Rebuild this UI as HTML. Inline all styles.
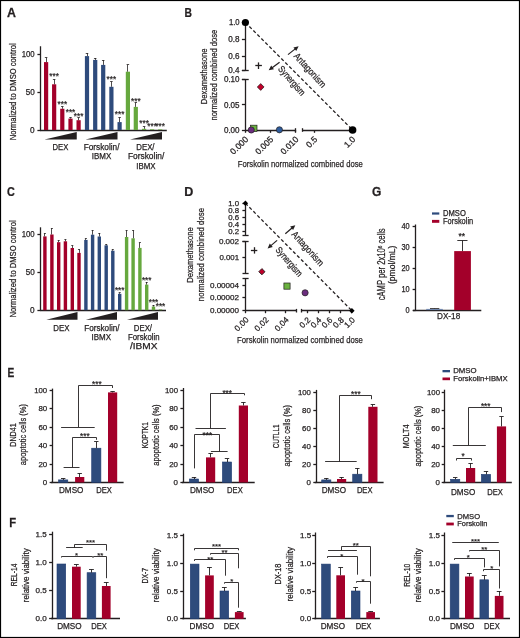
<!DOCTYPE html>
<html><head><meta charset="utf-8"><title>Figure</title>
<style>html,body{margin:0;padding:0;background:#fff;width:520px;height:638px;overflow:hidden}svg{display:block;font-family:"Liberation Sans",sans-serif;will-change:transform}text{stroke:#231f20;stroke-width:0.25px}</style>
</head><body>
<svg width="520" height="638" viewBox="0 0 520 638" font-family="Liberation Sans, sans-serif" fill="#231f20" stroke-linecap="butt">
<rect x="0.5" y="0.5" width="519" height="637" fill="none" stroke="#000" stroke-width="1.2"/>
<text transform="translate(7.09,16.7) scale(1.038,1)" x="0" y="0" font-size="11.92" font-weight="bold">A</text>
<line x1="40.5" y1="46.25" x2="40.5" y2="130.3" stroke="#231f20" stroke-width="1.3"/>
<line x1="37.4" y1="54.5" x2="40.5" y2="54.5" stroke="#231f20" stroke-width="1.3"/>
<text x="34.7" y="56.7" font-size="8.4" text-anchor="end" textLength="13" lengthAdjust="spacingAndGlyphs">100</text>
<line x1="37.4" y1="92.5" x2="40.5" y2="92.5" stroke="#231f20" stroke-width="1.3"/>
<text x="34.7" y="94.6" font-size="8.4" text-anchor="end" textLength="9" lengthAdjust="spacingAndGlyphs">50</text>
<line x1="37.4" y1="130.5" x2="40.5" y2="130.5" stroke="#231f20" stroke-width="1.3"/>
<text x="34.7" y="132.5" font-size="8.4" text-anchor="end" textLength="4.6" lengthAdjust="spacingAndGlyphs">0</text>
<line x1="40" y1="130.5" x2="166.8" y2="130.5" stroke="#231f20" stroke-width="1.3"/>
<text transform="translate(16.1,91.8) rotate(-90)" x="0" y="0" font-size="9.3" text-anchor="middle" textLength="97" lengthAdjust="spacingAndGlyphs">Normalized to DMSO control</text>
<rect x="44" y="62.1" width="4.2" height="67.9" fill="#a3002a"/>
<line x1="46.5" y1="62.1" x2="46.5" y2="57.6" stroke="#231f20" stroke-width="0.8"/>
<line x1="44.84" y1="57.5" x2="47.36" y2="57.5" stroke="#231f20" stroke-width="0.8"/>
<rect x="52.05" y="84.3" width="4.2" height="45.7" fill="#a3002a"/>
<line x1="54.5" y1="84.3" x2="54.5" y2="79.3" stroke="#231f20" stroke-width="0.8"/>
<line x1="52.89" y1="79.5" x2="55.41" y2="79.5" stroke="#231f20" stroke-width="0.8"/>
<text x="54.15" y="78.71" font-size="8.2" text-anchor="middle" style="stroke-width:0.2px">***</text>
<rect x="60.2" y="108.75" width="4.2" height="21.25" fill="#a3002a"/>
<line x1="62.5" y1="108.75" x2="62.5" y2="106.5" stroke="#231f20" stroke-width="0.8"/>
<line x1="61.04" y1="106.5" x2="63.56" y2="106.5" stroke="#231f20" stroke-width="0.8"/>
<text x="62.3" y="106.71" font-size="8.2" text-anchor="middle" style="stroke-width:0.2px">***</text>
<rect x="68.4" y="118.6" width="4.2" height="11.4" fill="#a3002a"/>
<line x1="70.5" y1="118.6" x2="70.5" y2="117.3" stroke="#231f20" stroke-width="0.8"/>
<line x1="69.24" y1="117.5" x2="71.76" y2="117.5" stroke="#231f20" stroke-width="0.8"/>
<text x="70.5" y="115.21" font-size="8.2" text-anchor="middle" style="stroke-width:0.2px">***</text>
<rect x="76.5" y="120.2" width="4.2" height="9.8" fill="#a3002a"/>
<line x1="78.5" y1="120.2" x2="78.5" y2="117.6" stroke="#231f20" stroke-width="0.8"/>
<line x1="77.34" y1="117.5" x2="79.86" y2="117.5" stroke="#231f20" stroke-width="0.8"/>
<text x="78.6" y="118.71" font-size="8.2" text-anchor="middle" style="stroke-width:0.2px">***</text>
<rect x="84.9" y="56.1" width="4.2" height="73.9" fill="#2e4b7c"/>
<line x1="87.5" y1="56.1" x2="87.5" y2="53.2" stroke="#231f20" stroke-width="0.8"/>
<line x1="85.74" y1="53.5" x2="88.26" y2="53.5" stroke="#231f20" stroke-width="0.8"/>
<rect x="93.1" y="59.9" width="4.2" height="70.1" fill="#2e4b7c"/>
<line x1="95.5" y1="59.9" x2="95.5" y2="58" stroke="#231f20" stroke-width="0.8"/>
<line x1="93.94" y1="58.5" x2="96.46" y2="58.5" stroke="#231f20" stroke-width="0.8"/>
<rect x="101.1" y="64.9" width="4.2" height="65.1" fill="#2e4b7c"/>
<line x1="103.5" y1="64.9" x2="103.5" y2="60.2" stroke="#231f20" stroke-width="0.8"/>
<line x1="101.94" y1="60.5" x2="104.46" y2="60.5" stroke="#231f20" stroke-width="0.8"/>
<rect x="109.3" y="86.8" width="4.2" height="43.2" fill="#2e4b7c"/>
<line x1="111.5" y1="86.8" x2="111.5" y2="81.7" stroke="#231f20" stroke-width="0.8"/>
<line x1="110.14" y1="81.5" x2="112.66" y2="81.5" stroke="#231f20" stroke-width="0.8"/>
<text x="111.4" y="81.91" font-size="8.2" text-anchor="middle" style="stroke-width:0.2px">***</text>
<rect x="117.5" y="122.1" width="4.2" height="7.9" fill="#2e4b7c"/>
<line x1="119.5" y1="122.1" x2="119.5" y2="117.4" stroke="#231f20" stroke-width="0.8"/>
<line x1="118.34" y1="117.5" x2="120.86" y2="117.5" stroke="#231f20" stroke-width="0.8"/>
<text x="119.6" y="116.71" font-size="8.2" text-anchor="middle" style="stroke-width:0.2px">***</text>
<rect x="125.8" y="71.7" width="4.2" height="58.3" fill="#66a83e"/>
<line x1="127.5" y1="71.7" x2="127.5" y2="64.9" stroke="#231f20" stroke-width="0.8"/>
<line x1="126.64" y1="64.5" x2="129.16" y2="64.5" stroke="#231f20" stroke-width="0.8"/>
<rect x="133.7" y="106.9" width="4.2" height="23.1" fill="#66a83e"/>
<line x1="135.5" y1="106.9" x2="135.5" y2="102.6" stroke="#231f20" stroke-width="0.8"/>
<line x1="134.54" y1="102.5" x2="137.06" y2="102.5" stroke="#231f20" stroke-width="0.8"/>
<text x="135.8" y="103.91" font-size="8.2" text-anchor="middle" style="stroke-width:0.2px">***</text>
<rect x="142" y="128.8" width="4.2" height="1.2" fill="#66a83e"/>
<line x1="144.5" y1="128.8" x2="144.5" y2="126.8" stroke="#231f20" stroke-width="0.8"/>
<line x1="142.84" y1="126.5" x2="145.36" y2="126.5" stroke="#231f20" stroke-width="0.8"/>
<text x="144.1" y="126.21" font-size="8.2" text-anchor="middle" style="stroke-width:0.2px">***</text>
<rect x="150" y="129.3" width="4.2" height="0.7" fill="#66a83e"/>
<text x="152.1" y="129.21" font-size="8.2" text-anchor="middle" style="stroke-width:0.2px">***</text>
<rect x="158.1" y="129.4" width="4.2" height="0.6" fill="#66a83e"/>
<text x="160.2" y="129.21" font-size="8.2" text-anchor="middle" style="stroke-width:0.2px">***</text>
<polygon points="44.5,139.6 76.75,139.6 76.75,132" fill="#231f20"/>
<polygon points="85.5,139.6 117.5,139.6 117.5,132" fill="#231f20"/>
<polygon points="130,139.6 162,139.6 162,132" fill="#231f20"/>
<text x="60.4" y="150" font-size="8.4" text-anchor="middle" textLength="15.8" lengthAdjust="spacingAndGlyphs">DEX</text>
<text x="101.6" y="150" font-size="8.4" text-anchor="middle" textLength="35.8" lengthAdjust="spacingAndGlyphs">Forskolin/</text>
<text x="101.5" y="159.3" font-size="8.4" text-anchor="middle" textLength="19.5" lengthAdjust="spacingAndGlyphs">IBMX</text>
<text x="145.4" y="150" font-size="8.4" text-anchor="middle" textLength="18.3" lengthAdjust="spacingAndGlyphs">DEX/</text>
<text x="146.1" y="159.3" font-size="8.4" text-anchor="middle" textLength="36.3" lengthAdjust="spacingAndGlyphs">Forskolin/</text>
<text x="145.9" y="168.7" font-size="8.4" text-anchor="middle" textLength="19.3" lengthAdjust="spacingAndGlyphs">IBMX</text>
<text transform="translate(184.51,16.8) scale(0.856,1)" x="0" y="0" font-size="12.06" font-weight="bold">B</text>
<line x1="245.5" y1="22.5" x2="245.5" y2="70.2" stroke="#231f20" stroke-width="1.3"/>
<line x1="245.5" y1="79.6" x2="245.5" y2="130.3" stroke="#231f20" stroke-width="1.3"/>
<line x1="241.9" y1="70.5" x2="248.7" y2="70.5" stroke="#231f20" stroke-width="1.3"/>
<line x1="241.9" y1="79.5" x2="248.7" y2="79.5" stroke="#231f20" stroke-width="1.3"/>
<line x1="241.9" y1="22.5" x2="245.4" y2="22.5" stroke="#231f20" stroke-width="1.3"/>
<text x="239.6" y="25.3" font-size="8.2" text-anchor="end" textLength="10.7" lengthAdjust="spacingAndGlyphs">1.0</text>
<line x1="241.9" y1="39.5" x2="245.4" y2="39.5" stroke="#231f20" stroke-width="1.3"/>
<text x="239.6" y="42.1" font-size="8.2" text-anchor="end" textLength="11.3" lengthAdjust="spacingAndGlyphs">0.8</text>
<line x1="241.9" y1="56.5" x2="245.4" y2="56.5" stroke="#231f20" stroke-width="1.3"/>
<text x="239.6" y="59.2" font-size="8.2" text-anchor="end" textLength="11.3" lengthAdjust="spacingAndGlyphs">0.6</text>
<line x1="241.9" y1="70.5" x2="245.4" y2="70.5" stroke="#231f20" stroke-width="1.3"/>
<text x="239.6" y="73" font-size="8.2" text-anchor="end" textLength="11.3" lengthAdjust="spacingAndGlyphs">0.4</text>
<line x1="241.9" y1="79.5" x2="245.4" y2="79.5" stroke="#231f20" stroke-width="1.3"/>
<text x="239.6" y="82.4" font-size="8.2" text-anchor="end" textLength="15.7" lengthAdjust="spacingAndGlyphs">0.10</text>
<line x1="241.9" y1="104.5" x2="245.4" y2="104.5" stroke="#231f20" stroke-width="1.3"/>
<text x="239.6" y="107.7" font-size="8.2" text-anchor="end" textLength="15.7" lengthAdjust="spacingAndGlyphs">0.05</text>
<line x1="241.9" y1="130.5" x2="245.4" y2="130.5" stroke="#231f20" stroke-width="1.3"/>
<text x="239.6" y="132.8" font-size="8.2" text-anchor="end" textLength="15.7" lengthAdjust="spacingAndGlyphs">0.00</text>
<line x1="244.9" y1="130.5" x2="295.7" y2="130.5" stroke="#231f20" stroke-width="1.3"/>
<line x1="302.5" y1="130.5" x2="352.6" y2="130.5" stroke="#231f20" stroke-width="1.3"/>
<line x1="295.5" y1="128.2" x2="295.5" y2="131.8" stroke="#231f20" stroke-width="1.3"/>
<line x1="302.5" y1="128.2" x2="302.5" y2="131.8" stroke="#231f20" stroke-width="1.3"/>
<line x1="245.5" y1="130" x2="245.5" y2="132.8" stroke="#231f20" stroke-width="1.3"/>
<line x1="270.5" y1="130" x2="270.5" y2="132.8" stroke="#231f20" stroke-width="1.3"/>
<line x1="295.5" y1="130" x2="295.5" y2="132.8" stroke="#231f20" stroke-width="1.3"/>
<line x1="314.5" y1="130" x2="314.5" y2="132.8" stroke="#231f20" stroke-width="1.3"/>
<line x1="352.5" y1="130" x2="352.5" y2="132.8" stroke="#231f20" stroke-width="1.3"/>
<text transform="translate(248.8,139.9) rotate(-45)" x="0" y="0" font-size="8.6" text-anchor="end">0.000</text>
<text transform="translate(274,139.9) rotate(-45)" x="0" y="0" font-size="8.6" text-anchor="end">0.005</text>
<text transform="translate(299.1,139.9) rotate(-45)" x="0" y="0" font-size="8.6" text-anchor="end">0.010</text>
<text transform="translate(318,139.9) rotate(-45)" x="0" y="0" font-size="8.6" text-anchor="end">0.5</text>
<text transform="translate(356,139.9) rotate(-45)" x="0" y="0" font-size="8.6" text-anchor="end">1.0</text>
<line x1="245.4" y1="22.5" x2="352.6" y2="130" stroke="#231f20" stroke-width="1.3" stroke-dasharray="3.3,2.35"/>
<circle cx="245.4" cy="22.5" r="3.6" fill="#000"/>
<circle cx="352.6" cy="130" r="3.8" fill="#000"/>
<line x1="288" y1="54.6" x2="295.23" y2="48.87" stroke="#231f20" stroke-width="1.2"/>
<polygon points="298.6,46.2 296.27,50.98 293.41,47.38" fill="#231f20"/>
<line x1="279.6" y1="62.2" x2="272.15" y2="67.74" stroke="#231f20" stroke-width="1.2"/>
<polygon points="268.7,70.3 271.18,65.59 273.92,69.28" fill="#231f20"/>
<text transform="translate(307.6,72.4) rotate(48)" x="0" y="0" font-size="9.6" text-anchor="middle" textLength="43" lengthAdjust="spacingAndGlyphs">Antagonism</text>
<text transform="translate(289.4,82.8) rotate(49)" x="0" y="0" font-size="9.6" text-anchor="middle" textLength="36" lengthAdjust="spacingAndGlyphs">Synergism</text>
<line x1="255.3" y1="65.5" x2="261.9" y2="65.5" stroke="#231f20" stroke-width="1.3"/>
<line x1="258.5" y1="62.4" x2="258.5" y2="69" stroke="#231f20" stroke-width="1.3"/>
<polygon points="260.7,83.6 264.1,87 260.7,90.4 257.3,87" fill="#c0002a"/>
<polygon points="260.7,83.6 264.1,87 260.7,90.4 257.3,87" fill="none" stroke="#231f20" stroke-width="0.7"/>
<rect x="250.6" y="125.2" width="6.4" height="6.2" fill="#6ab23f" stroke="#231f20" stroke-width="0.7"/>
<circle cx="251.25" cy="130" r="3.1" fill="#6b2d7e" stroke="#231f20" stroke-width="0.7"/>
<circle cx="279.4" cy="129.8" r="3.1" fill="#2f5c9c" stroke="#231f20" stroke-width="0.7"/>
<text transform="translate(206.8,76.35) rotate(-90)" x="0" y="0" font-size="9.8" text-anchor="middle" textLength="55.7" lengthAdjust="spacingAndGlyphs">Dexamethasone</text>
<text transform="translate(217.3,75.15) rotate(-90)" x="0" y="0" font-size="9.8" text-anchor="middle" textLength="90.9" lengthAdjust="spacingAndGlyphs">normalized combined dose</text>
<text x="300.3" y="167.4" font-size="9.8" text-anchor="middle" textLength="125" lengthAdjust="spacingAndGlyphs">Forskolin normalized combined dose</text>
<text transform="translate(7.05,196.3) scale(0.889,1)" x="0" y="0" font-size="12.21" font-weight="bold">C</text>
<line x1="40.5" y1="227.3" x2="40.5" y2="310.5" stroke="#231f20" stroke-width="1.3"/>
<line x1="37.4" y1="234.5" x2="40.7" y2="234.5" stroke="#231f20" stroke-width="1.3"/>
<text x="34.7" y="237.4" font-size="8.4" text-anchor="end" textLength="13" lengthAdjust="spacingAndGlyphs">100</text>
<line x1="37.4" y1="272.5" x2="40.7" y2="272.5" stroke="#231f20" stroke-width="1.3"/>
<text x="34.7" y="275.2" font-size="8.4" text-anchor="end" textLength="9" lengthAdjust="spacingAndGlyphs">50</text>
<line x1="37.4" y1="310.5" x2="40.7" y2="310.5" stroke="#231f20" stroke-width="1.3"/>
<text x="34.7" y="312.7" font-size="8.4" text-anchor="end" textLength="4.6" lengthAdjust="spacingAndGlyphs">0</text>
<line x1="40.2" y1="310.5" x2="166" y2="310.5" stroke="#231f20" stroke-width="1.3"/>
<text transform="translate(16.1,268.9) rotate(-90)" x="0" y="0" font-size="9.3" text-anchor="middle" textLength="97" lengthAdjust="spacingAndGlyphs">Normalized to DMSO control</text>
<rect x="43.2" y="236.4" width="3.4" height="73.8" fill="#a3002a"/>
<line x1="44.5" y1="236.4" x2="44.5" y2="233.3" stroke="#231f20" stroke-width="0.8"/>
<line x1="43.88" y1="233.5" x2="45.92" y2="233.5" stroke="#231f20" stroke-width="0.8"/>
<rect x="50.2" y="234.5" width="3.4" height="75.7" fill="#a3002a"/>
<line x1="51.5" y1="234.5" x2="51.5" y2="228.3" stroke="#231f20" stroke-width="0.8"/>
<line x1="50.88" y1="228.5" x2="52.92" y2="228.5" stroke="#231f20" stroke-width="0.8"/>
<rect x="57" y="242.2" width="3.4" height="68" fill="#a3002a"/>
<line x1="58.5" y1="242.2" x2="58.5" y2="240.2" stroke="#231f20" stroke-width="0.8"/>
<line x1="57.68" y1="240.5" x2="59.72" y2="240.5" stroke="#231f20" stroke-width="0.8"/>
<rect x="63.7" y="241.3" width="3.4" height="68.9" fill="#a3002a"/>
<line x1="65.5" y1="241.3" x2="65.5" y2="239.5" stroke="#231f20" stroke-width="0.8"/>
<line x1="64.38" y1="239.5" x2="66.42" y2="239.5" stroke="#231f20" stroke-width="0.8"/>
<rect x="70.6" y="248" width="3.4" height="62.2" fill="#a3002a"/>
<line x1="72.5" y1="248" x2="72.5" y2="245.7" stroke="#231f20" stroke-width="0.8"/>
<line x1="71.28" y1="245.5" x2="73.32" y2="245.5" stroke="#231f20" stroke-width="0.8"/>
<rect x="77.3" y="252.9" width="3.4" height="57.3" fill="#a3002a"/>
<line x1="79.5" y1="252.9" x2="79.5" y2="249.5" stroke="#231f20" stroke-width="0.8"/>
<line x1="77.98" y1="249.5" x2="80.02" y2="249.5" stroke="#231f20" stroke-width="0.8"/>
<rect x="84.2" y="239.9" width="3.4" height="70.3" fill="#2e4b7c"/>
<line x1="85.5" y1="239.9" x2="85.5" y2="238.7" stroke="#231f20" stroke-width="0.8"/>
<line x1="84.88" y1="238.5" x2="86.92" y2="238.5" stroke="#231f20" stroke-width="0.8"/>
<rect x="90.9" y="234.7" width="3.4" height="75.5" fill="#2e4b7c"/>
<line x1="92.5" y1="234.7" x2="92.5" y2="230.3" stroke="#231f20" stroke-width="0.8"/>
<line x1="91.58" y1="230.5" x2="93.62" y2="230.5" stroke="#231f20" stroke-width="0.8"/>
<rect x="97.6" y="236.5" width="3.4" height="73.7" fill="#2e4b7c"/>
<line x1="99.5" y1="236.5" x2="99.5" y2="233" stroke="#231f20" stroke-width="0.8"/>
<line x1="98.28" y1="233.5" x2="100.32" y2="233.5" stroke="#231f20" stroke-width="0.8"/>
<rect x="104.5" y="245.3" width="3.4" height="64.9" fill="#2e4b7c"/>
<line x1="106.5" y1="245.3" x2="106.5" y2="244.2" stroke="#231f20" stroke-width="0.8"/>
<line x1="105.18" y1="244.5" x2="107.22" y2="244.5" stroke="#231f20" stroke-width="0.8"/>
<rect x="111.1" y="250.7" width="3.4" height="59.5" fill="#2e4b7c"/>
<line x1="112.5" y1="250.7" x2="112.5" y2="249.4" stroke="#231f20" stroke-width="0.8"/>
<line x1="111.78" y1="249.5" x2="113.82" y2="249.5" stroke="#231f20" stroke-width="0.8"/>
<rect x="118" y="293.8" width="3.4" height="16.4" fill="#2e4b7c"/>
<line x1="119.5" y1="293.8" x2="119.5" y2="292.8" stroke="#231f20" stroke-width="0.8"/>
<line x1="118.68" y1="292.5" x2="120.72" y2="292.5" stroke="#231f20" stroke-width="0.8"/>
<text x="119.7" y="293.31" font-size="8.2" text-anchor="middle" style="stroke-width:0.2px">***</text>
<rect x="124.9" y="237" width="3.4" height="73.2" fill="#66a83e"/>
<line x1="126.5" y1="237" x2="126.5" y2="230.4" stroke="#231f20" stroke-width="0.8"/>
<line x1="125.58" y1="230.5" x2="127.62" y2="230.5" stroke="#231f20" stroke-width="0.8"/>
<rect x="131.4" y="238.3" width="3.4" height="71.9" fill="#66a83e"/>
<line x1="133.5" y1="238.3" x2="133.5" y2="230.4" stroke="#231f20" stroke-width="0.8"/>
<line x1="132.08" y1="230.5" x2="134.12" y2="230.5" stroke="#231f20" stroke-width="0.8"/>
<rect x="138.2" y="247.9" width="3.4" height="62.3" fill="#66a83e"/>
<line x1="139.5" y1="247.9" x2="139.5" y2="242.8" stroke="#231f20" stroke-width="0.8"/>
<line x1="138.88" y1="242.5" x2="140.92" y2="242.5" stroke="#231f20" stroke-width="0.8"/>
<rect x="145" y="284.6" width="3.4" height="25.6" fill="#66a83e"/>
<line x1="146.5" y1="284.6" x2="146.5" y2="282" stroke="#231f20" stroke-width="0.8"/>
<line x1="145.68" y1="282.5" x2="147.72" y2="282.5" stroke="#231f20" stroke-width="0.8"/>
<text x="146.7" y="282.81" font-size="8.2" text-anchor="middle" style="stroke-width:0.2px">***</text>
<rect x="151.8" y="306.5" width="3.4" height="3.7" fill="#66a83e"/>
<line x1="153.5" y1="306.5" x2="153.5" y2="305" stroke="#231f20" stroke-width="0.8"/>
<line x1="152.48" y1="305.5" x2="154.52" y2="305.5" stroke="#231f20" stroke-width="0.8"/>
<text x="153.5" y="304.81" font-size="8.2" text-anchor="middle" style="stroke-width:0.2px">***</text>
<rect x="158.8" y="309.4" width="3.4" height="0.8" fill="#66a83e"/>
<text x="160.5" y="309.01" font-size="8.2" text-anchor="middle" style="stroke-width:0.2px">***</text>
<polygon points="46.3,319.8 77.5,319.8 77.5,312" fill="#231f20"/>
<polygon points="85.8,319.8 117,319.8 117,312" fill="#231f20"/>
<polygon points="127,319.8 158,319.8 158,312" fill="#231f20"/>
<text x="61.4" y="330.6" font-size="8.4" text-anchor="middle" textLength="16.2" lengthAdjust="spacingAndGlyphs">DEX</text>
<text x="101.9" y="330.7" font-size="8.4" text-anchor="middle" textLength="35.3" lengthAdjust="spacingAndGlyphs">Forskolin/</text>
<text x="101.3" y="340" font-size="8.4" text-anchor="middle" textLength="19.5" lengthAdjust="spacingAndGlyphs">IBMX</text>
<text x="142.9" y="330.7" font-size="8.4" text-anchor="middle" textLength="18.3" lengthAdjust="spacingAndGlyphs">DEX/</text>
<text x="143.75" y="340" font-size="8.4" text-anchor="middle" textLength="31.5" lengthAdjust="spacingAndGlyphs">Forskolin</text>
<text x="143.75" y="349.3" font-size="8.4" text-anchor="middle" textLength="27.5" lengthAdjust="spacingAndGlyphs">/IBMX</text>
<text transform="translate(184.36,196.4) scale(1.041,1)" x="0" y="0" font-size="12.06" font-weight="bold">D</text>
<line x1="245.5" y1="203.3" x2="245.5" y2="235.2" stroke="#231f20" stroke-width="1.3"/>
<line x1="245.5" y1="241.4" x2="245.5" y2="273.1" stroke="#231f20" stroke-width="1.3"/>
<line x1="245.5" y1="278" x2="245.5" y2="310.7" stroke="#231f20" stroke-width="1.3"/>
<line x1="242.5" y1="235.5" x2="248.6" y2="235.5" stroke="#231f20" stroke-width="1.3"/>
<line x1="242.5" y1="241.5" x2="248.6" y2="241.5" stroke="#231f20" stroke-width="1.3"/>
<line x1="242.5" y1="273.5" x2="248.6" y2="273.5" stroke="#231f20" stroke-width="1.3"/>
<line x1="242.5" y1="278.5" x2="248.6" y2="278.5" stroke="#231f20" stroke-width="1.3"/>
<line x1="242.4" y1="203.5" x2="245.4" y2="203.5" stroke="#231f20" stroke-width="1.3"/>
<text x="239.1" y="205.9" font-size="7.8" text-anchor="end" textLength="10.9" lengthAdjust="spacingAndGlyphs">1.0</text>
<line x1="242.4" y1="210.5" x2="245.4" y2="210.5" stroke="#231f20" stroke-width="1.3"/>
<text x="239.1" y="213.1" font-size="7.8" text-anchor="end" textLength="10.9" lengthAdjust="spacingAndGlyphs">0.8</text>
<line x1="242.4" y1="217.5" x2="245.4" y2="217.5" stroke="#231f20" stroke-width="1.3"/>
<text x="239.1" y="220.1" font-size="7.8" text-anchor="end" textLength="10.9" lengthAdjust="spacingAndGlyphs">0.6</text>
<line x1="242.4" y1="224.5" x2="245.4" y2="224.5" stroke="#231f20" stroke-width="1.3"/>
<text x="239.1" y="227" font-size="7.8" text-anchor="end" textLength="10.9" lengthAdjust="spacingAndGlyphs">0.4</text>
<line x1="242.4" y1="231.5" x2="245.4" y2="231.5" stroke="#231f20" stroke-width="1.3"/>
<text x="239.1" y="233.9" font-size="7.8" text-anchor="end" textLength="10.9" lengthAdjust="spacingAndGlyphs">0.2</text>
<line x1="242.4" y1="241.5" x2="245.4" y2="241.5" stroke="#231f20" stroke-width="1.3"/>
<text x="239.1" y="244" font-size="7.8" text-anchor="end" textLength="20.2" lengthAdjust="spacingAndGlyphs">0.002</text>
<line x1="242.4" y1="257.5" x2="245.4" y2="257.5" stroke="#231f20" stroke-width="1.3"/>
<text x="239.1" y="260.4" font-size="7.8" text-anchor="end" textLength="19.7" lengthAdjust="spacingAndGlyphs">0.001</text>
<line x1="242.4" y1="285.5" x2="245.4" y2="285.5" stroke="#231f20" stroke-width="1.3"/>
<text x="239.1" y="287.8" font-size="7.8" text-anchor="end" textLength="29.2" lengthAdjust="spacingAndGlyphs">0.00004</text>
<line x1="242.4" y1="297.5" x2="245.4" y2="297.5" stroke="#231f20" stroke-width="1.3"/>
<text x="239.1" y="299.9" font-size="7.8" text-anchor="end" textLength="29.2" lengthAdjust="spacingAndGlyphs">0.00002</text>
<line x1="242.4" y1="310.5" x2="245.4" y2="310.5" stroke="#231f20" stroke-width="1.3"/>
<text x="239.1" y="312.8" font-size="7.8" text-anchor="end" textLength="29.2" lengthAdjust="spacingAndGlyphs">0.00000</text>
<line x1="244.9" y1="310.5" x2="296" y2="310.5" stroke="#231f20" stroke-width="1.3"/>
<line x1="301.2" y1="310.5" x2="351.9" y2="310.5" stroke="#231f20" stroke-width="1.3"/>
<line x1="296.5" y1="308.9" x2="296.5" y2="312.5" stroke="#231f20" stroke-width="1.3"/>
<line x1="301.5" y1="308.9" x2="301.5" y2="312.5" stroke="#231f20" stroke-width="1.3"/>
<line x1="245.5" y1="310.7" x2="245.5" y2="313.2" stroke="#231f20" stroke-width="1.3"/>
<line x1="265.5" y1="310.7" x2="265.5" y2="313.2" stroke="#231f20" stroke-width="1.3"/>
<line x1="285.5" y1="310.7" x2="285.5" y2="313.2" stroke="#231f20" stroke-width="1.3"/>
<line x1="307.5" y1="310.7" x2="307.5" y2="313.2" stroke="#231f20" stroke-width="1.3"/>
<line x1="318.5" y1="310.7" x2="318.5" y2="313.2" stroke="#231f20" stroke-width="1.3"/>
<line x1="329.5" y1="310.7" x2="329.5" y2="313.2" stroke="#231f20" stroke-width="1.3"/>
<line x1="340.5" y1="310.7" x2="340.5" y2="313.2" stroke="#231f20" stroke-width="1.3"/>
<line x1="351.5" y1="310.7" x2="351.5" y2="313.2" stroke="#231f20" stroke-width="1.3"/>
<text transform="translate(249.1,320.4) rotate(-45)" x="0" y="0" font-size="8.2" text-anchor="end">0.00</text>
<text transform="translate(269.1,320.4) rotate(-45)" x="0" y="0" font-size="8.2" text-anchor="end">0.02</text>
<text transform="translate(289.3,320.4) rotate(-45)" x="0" y="0" font-size="8.2" text-anchor="end">0.04</text>
<text transform="translate(310.9,320.4) rotate(-45)" x="0" y="0" font-size="8.2" text-anchor="end">0.2</text>
<text transform="translate(322,320.4) rotate(-45)" x="0" y="0" font-size="8.2" text-anchor="end">0.4</text>
<text transform="translate(333.1,320.4) rotate(-45)" x="0" y="0" font-size="8.2" text-anchor="end">0.6</text>
<text transform="translate(344.4,320.4) rotate(-45)" x="0" y="0" font-size="8.2" text-anchor="end">0.8</text>
<text transform="translate(355.6,320.4) rotate(-45)" x="0" y="0" font-size="8.2" text-anchor="end">1.0</text>
<line x1="245.4" y1="203.3" x2="351.9" y2="310.7" stroke="#231f20" stroke-width="1.3" stroke-dasharray="3.3,2.35"/>
<polygon points="245.4,200.6 248.1,203.3 245.4,206 242.7,203.3" fill="#000"/>
<polygon points="351.9,308 354.6,310.7 351.9,313.4 349.2,310.7" fill="#000"/>
<line x1="285.3" y1="233.7" x2="292.02" y2="227.98" stroke="#231f20" stroke-width="1.2"/>
<polygon points="295.3,225.2 293.13,230.06 290.15,226.56" fill="#231f20"/>
<line x1="277.1" y1="240.4" x2="270.89" y2="245.63" stroke="#231f20" stroke-width="1.2"/>
<polygon points="267.6,248.4 269.79,243.55 272.75,247.07" fill="#231f20"/>
<text transform="translate(305.5,250.7) rotate(48)" x="0" y="0" font-size="9.6" text-anchor="middle" textLength="43" lengthAdjust="spacingAndGlyphs">Antagonism</text>
<text transform="translate(286.7,263.8) rotate(49)" x="0" y="0" font-size="9.6" text-anchor="middle" textLength="36" lengthAdjust="spacingAndGlyphs">Synergism</text>
<line x1="250.9" y1="250.5" x2="257.3" y2="250.5" stroke="#231f20" stroke-width="1.3"/>
<line x1="254.5" y1="247.2" x2="254.5" y2="253.6" stroke="#231f20" stroke-width="1.3"/>
<polygon points="261.9,268.6 265,271.7 261.9,274.8 258.8,271.7" fill="#c0002a" stroke="#231f20" stroke-width="0.9"/>
<rect x="283.9" y="283" width="6.2" height="6.2" fill="#6ab23f" stroke="#231f20" stroke-width="0.7"/>
<circle cx="305.1" cy="292.8" r="3.1" fill="#6b2d7e" stroke="#231f20" stroke-width="0.7"/>
<text transform="translate(192.8,255.1) rotate(-90)" x="0" y="0" font-size="9.8" text-anchor="middle" textLength="55.5" lengthAdjust="spacingAndGlyphs">Dexamethasone</text>
<text transform="translate(203.5,254.6) rotate(-90)" x="0" y="0" font-size="9.8" text-anchor="middle" textLength="93.2" lengthAdjust="spacingAndGlyphs">normalized combined dose</text>
<text x="300" y="342.9" font-size="9.8" text-anchor="middle" textLength="125.8" lengthAdjust="spacingAndGlyphs">Forskolin normalized combined dose</text>
<text transform="translate(372.11,196.3) scale(0.983,1)" x="0" y="0" font-size="12.21" font-weight="bold">G</text>
<rect x="432" y="212.4" width="7.3" height="2.2" fill="#2e4b7c"/>
<text x="443" y="216" font-size="8.2" textLength="22.8" lengthAdjust="spacingAndGlyphs">DMSO</text>
<rect x="432" y="219.9" width="7.3" height="2.9" fill="#a3002a"/>
<text x="443" y="223.6" font-size="8.2" textLength="30.2" lengthAdjust="spacingAndGlyphs">Forskolin</text>
<line x1="415.5" y1="224.5" x2="415.5" y2="310.6" stroke="#231f20" stroke-width="1.3"/>
<line x1="412.6" y1="226.5" x2="415.6" y2="226.5" stroke="#231f20" stroke-width="1.3"/>
<text x="409.6" y="228.8" font-size="8.4" text-anchor="end" textLength="8.2" lengthAdjust="spacingAndGlyphs">40</text>
<line x1="412.6" y1="247.5" x2="415.6" y2="247.5" stroke="#231f20" stroke-width="1.3"/>
<text x="409.6" y="249.9" font-size="8.4" text-anchor="end" textLength="8.2" lengthAdjust="spacingAndGlyphs">30</text>
<line x1="412.6" y1="268.5" x2="415.6" y2="268.5" stroke="#231f20" stroke-width="1.3"/>
<text x="409.6" y="270.6" font-size="8.4" text-anchor="end" textLength="8.2" lengthAdjust="spacingAndGlyphs">20</text>
<line x1="412.6" y1="289.5" x2="415.6" y2="289.5" stroke="#231f20" stroke-width="1.3"/>
<text x="409.6" y="291.8" font-size="8.4" text-anchor="end" textLength="8.2" lengthAdjust="spacingAndGlyphs">10</text>
<line x1="412.6" y1="310.5" x2="415.6" y2="310.5" stroke="#231f20" stroke-width="1.3"/>
<text x="409.6" y="312.7" font-size="8.4" text-anchor="end" textLength="4.1" lengthAdjust="spacingAndGlyphs">0</text>
<line x1="413" y1="310.5" x2="481.3" y2="310.5" stroke="#231f20" stroke-width="1.3"/>
<rect x="426.2" y="308.9" width="16.6" height="1.2" fill="#6f86ad"/>
<line x1="434.5" y1="308.9" x2="434.5" y2="308.5" stroke="#231f20" stroke-width="0.8"/>
<line x1="430" y1="308.5" x2="439.3" y2="308.5" stroke="#231f20" stroke-width="0.8"/>
<rect x="454.2" y="251.1" width="16.7" height="59" fill="#a3002a"/>
<line x1="462.5" y1="251.1" x2="462.5" y2="240.5" stroke="#231f20" stroke-width="0.9"/>
<line x1="457.3" y1="240.5" x2="467.5" y2="240.5" stroke="#231f20" stroke-width="0.9"/>
<text x="461.8" y="239.2" font-size="8.5" text-anchor="middle">**</text>
<text x="448.6" y="319.4" font-size="8.4" text-anchor="middle" textLength="23.2" lengthAdjust="spacingAndGlyphs">DX-18</text>
<text transform="translate(385.4,264.3) rotate(-90)" x="0" y="0" font-size="10" text-anchor="middle" textLength="72" lengthAdjust="spacingAndGlyphs">cAMP per 2x10<tspan font-size="6" dy="-3.2">6</tspan><tspan dy="3.2"> cells</tspan></text>
<text transform="translate(395,264.8) rotate(-90)" x="0" y="0" font-size="9.6" text-anchor="middle" textLength="38.5" lengthAdjust="spacingAndGlyphs">(pmol/mL)</text>
<text transform="translate(7.52,376.8) scale(0.822,1)" x="0" y="0" font-size="12.35" font-weight="bold">E</text>
<line x1="52.5" y1="388.6" x2="52.5" y2="482.9" stroke="#231f20" stroke-width="1.3"/>
<line x1="49.6" y1="390.5" x2="52.6" y2="390.5" stroke="#231f20" stroke-width="1.3"/>
<text x="47.2" y="393.1" font-size="7.9" text-anchor="end" textLength="13" lengthAdjust="spacingAndGlyphs">100</text>
<line x1="49.6" y1="408.5" x2="52.6" y2="408.5" stroke="#231f20" stroke-width="1.3"/>
<text x="47.2" y="411.48" font-size="7.9" text-anchor="end" textLength="8.8" lengthAdjust="spacingAndGlyphs">80</text>
<line x1="49.6" y1="427.5" x2="52.6" y2="427.5" stroke="#231f20" stroke-width="1.3"/>
<text x="47.2" y="429.86" font-size="7.9" text-anchor="end" textLength="8.8" lengthAdjust="spacingAndGlyphs">60</text>
<line x1="49.6" y1="445.5" x2="52.6" y2="445.5" stroke="#231f20" stroke-width="1.3"/>
<text x="47.2" y="448.24" font-size="7.9" text-anchor="end" textLength="8.8" lengthAdjust="spacingAndGlyphs">40</text>
<line x1="49.6" y1="464.5" x2="52.6" y2="464.5" stroke="#231f20" stroke-width="1.3"/>
<text x="47.2" y="466.62" font-size="7.9" text-anchor="end" textLength="8.8" lengthAdjust="spacingAndGlyphs">20</text>
<line x1="49.6" y1="482.5" x2="52.6" y2="482.5" stroke="#231f20" stroke-width="1.3"/>
<text x="47.2" y="485" font-size="7.9" text-anchor="end" textLength="4.4" lengthAdjust="spacingAndGlyphs">0</text>
<line x1="51.1" y1="482.5" x2="123.6" y2="482.5" stroke="#231f20" stroke-width="1.3"/>
<rect x="58.6" y="479.9" width="9.2" height="2.5" fill="#2e4b7c" stroke="#203d72" stroke-width="0.6"/>
<line x1="63.5" y1="479.9" x2="63.5" y2="478.4" stroke="#231f20" stroke-width="0.9"/>
<line x1="61" y1="478.5" x2="65.4" y2="478.5" stroke="#231f20" stroke-width="0.9"/>
<rect x="75.1" y="477" width="9.2" height="5.4" fill="#a3002a"/>
<line x1="79.5" y1="477" x2="79.5" y2="473.2" stroke="#231f20" stroke-width="0.9"/>
<line x1="77.5" y1="473.5" x2="81.9" y2="473.5" stroke="#231f20" stroke-width="0.9"/>
<rect x="91.7" y="448.2" width="9.2" height="34.2" fill="#2e4b7c" stroke="#203d72" stroke-width="0.6"/>
<line x1="96.5" y1="448.2" x2="96.5" y2="441.8" stroke="#231f20" stroke-width="0.9"/>
<line x1="94.1" y1="441.5" x2="98.5" y2="441.5" stroke="#231f20" stroke-width="0.9"/>
<rect x="108" y="392.4" width="9.2" height="90" fill="#a3002a"/>
<line x1="112.5" y1="392.4" x2="112.5" y2="391.5" stroke="#231f20" stroke-width="0.9"/>
<line x1="110.4" y1="391.5" x2="114.8" y2="391.5" stroke="#231f20" stroke-width="0.9"/>
<polyline points="63.6,467.5 79.5,467.5" fill="none" stroke="#231f20" stroke-width="0.9"/>
<polyline points="72.5,467.4 72.5,437.5 96.5,437.5 96.5,439.8" fill="none" stroke="#231f20" stroke-width="0.9"/>
<polyline points="61.1,427.5 94.7,427.5" fill="none" stroke="#231f20" stroke-width="0.9"/>
<polyline points="78.5,427 78.5,385.5 112.5,385.5 112.5,388" fill="none" stroke="#231f20" stroke-width="0.9"/>
<text x="84.9" y="438.51" font-size="8.2" text-anchor="middle" style="stroke-width:0.2px">***</text>
<text x="96.9" y="386.61" font-size="8.2" text-anchor="middle" style="stroke-width:0.2px">***</text>
<text transform="translate(15.5,435) rotate(-90)" x="0" y="0" font-size="9.6" text-anchor="middle" textLength="23.5" lengthAdjust="spacingAndGlyphs">DND41</text>
<text transform="translate(26,434.6) rotate(-90)" x="0" y="0" font-size="9.6" text-anchor="middle" textLength="61.2" lengthAdjust="spacingAndGlyphs">apoptotic cells (%)</text>
<text x="71.2" y="493.3" font-size="8.5" text-anchor="middle" textLength="24.4" lengthAdjust="spacingAndGlyphs">DMSO</text>
<text x="104.1" y="493.3" font-size="8.5" text-anchor="middle" textLength="15.6" lengthAdjust="spacingAndGlyphs">DEX</text>
<line x1="183.5" y1="388" x2="183.5" y2="482.9" stroke="#231f20" stroke-width="1.3"/>
<line x1="180.4" y1="390.5" x2="183.4" y2="390.5" stroke="#231f20" stroke-width="1.3"/>
<text x="178" y="393.1" font-size="7.9" text-anchor="end" textLength="13" lengthAdjust="spacingAndGlyphs">100</text>
<line x1="180.4" y1="408.5" x2="183.4" y2="408.5" stroke="#231f20" stroke-width="1.3"/>
<text x="178" y="411.48" font-size="7.9" text-anchor="end" textLength="8.8" lengthAdjust="spacingAndGlyphs">80</text>
<line x1="180.4" y1="427.5" x2="183.4" y2="427.5" stroke="#231f20" stroke-width="1.3"/>
<text x="178" y="429.86" font-size="7.9" text-anchor="end" textLength="8.8" lengthAdjust="spacingAndGlyphs">60</text>
<line x1="180.4" y1="445.5" x2="183.4" y2="445.5" stroke="#231f20" stroke-width="1.3"/>
<text x="178" y="448.24" font-size="7.9" text-anchor="end" textLength="8.8" lengthAdjust="spacingAndGlyphs">40</text>
<line x1="180.4" y1="464.5" x2="183.4" y2="464.5" stroke="#231f20" stroke-width="1.3"/>
<text x="178" y="466.62" font-size="7.9" text-anchor="end" textLength="8.8" lengthAdjust="spacingAndGlyphs">20</text>
<line x1="180.4" y1="482.5" x2="183.4" y2="482.5" stroke="#231f20" stroke-width="1.3"/>
<text x="178" y="485" font-size="7.9" text-anchor="end" textLength="4.4" lengthAdjust="spacingAndGlyphs">0</text>
<line x1="181.9" y1="482.5" x2="254.7" y2="482.5" stroke="#231f20" stroke-width="1.3"/>
<rect x="189.4" y="479" width="9.2" height="3.4" fill="#2e4b7c" stroke="#203d72" stroke-width="0.6"/>
<line x1="194.5" y1="479" x2="194.5" y2="477" stroke="#231f20" stroke-width="0.9"/>
<line x1="191.8" y1="477.5" x2="196.2" y2="477.5" stroke="#231f20" stroke-width="0.9"/>
<rect x="206" y="457.4" width="9.2" height="25" fill="#a3002a"/>
<line x1="210.5" y1="457.4" x2="210.5" y2="453.4" stroke="#231f20" stroke-width="0.9"/>
<line x1="208.4" y1="453.5" x2="212.8" y2="453.5" stroke="#231f20" stroke-width="0.9"/>
<rect x="222.4" y="462" width="9.2" height="20.4" fill="#2e4b7c" stroke="#203d72" stroke-width="0.6"/>
<line x1="227.5" y1="462" x2="227.5" y2="458.8" stroke="#231f20" stroke-width="0.9"/>
<line x1="224.8" y1="458.5" x2="229.2" y2="458.5" stroke="#231f20" stroke-width="0.9"/>
<rect x="238.8" y="405.5" width="9.2" height="76.9" fill="#a3002a"/>
<line x1="243.5" y1="405.5" x2="243.5" y2="402.4" stroke="#231f20" stroke-width="0.9"/>
<line x1="241.2" y1="402.5" x2="245.6" y2="402.5" stroke="#231f20" stroke-width="0.9"/>
<polyline points="195.5,428.5 225.9,428.5" fill="none" stroke="#231f20" stroke-width="0.9"/>
<polyline points="210.5,428.4 210.5,393.5 244.5,393.5 244.5,395.3" fill="none" stroke="#231f20" stroke-width="0.9"/>
<polyline points="194.5,468.4 194.5,434.5 219.5,434.5 219.5,451.5" fill="none" stroke="#231f20" stroke-width="0.9"/>
<polyline points="210.9,451.5 227.6,451.5" fill="none" stroke="#231f20" stroke-width="0.9"/>
<text x="227.2" y="395.71" font-size="8.2" text-anchor="middle" style="stroke-width:0.2px">***</text>
<text x="207.4" y="438.01" font-size="8.2" text-anchor="middle" style="stroke-width:0.2px">***</text>
<text transform="translate(148,435.2) rotate(-90)" x="0" y="0" font-size="9.6" text-anchor="middle" textLength="26.3" lengthAdjust="spacingAndGlyphs">KOPTK1</text>
<text transform="translate(159.4,435.1) rotate(-90)" x="0" y="0" font-size="9.6" text-anchor="middle" textLength="61.4" lengthAdjust="spacingAndGlyphs">apoptotic cells (%)</text>
<text x="202.2" y="493.3" font-size="8.5" text-anchor="middle" textLength="24.4" lengthAdjust="spacingAndGlyphs">DMSO</text>
<text x="234.9" y="493.3" font-size="8.5" text-anchor="middle" textLength="15.6" lengthAdjust="spacingAndGlyphs">DEX</text>
<line x1="316.5" y1="389.9" x2="316.5" y2="482.9" stroke="#231f20" stroke-width="1.3"/>
<line x1="313.3" y1="392.5" x2="316.3" y2="392.5" stroke="#231f20" stroke-width="1.3"/>
<text x="310.9" y="394.6" font-size="7.9" text-anchor="end" textLength="13" lengthAdjust="spacingAndGlyphs">100</text>
<line x1="313.3" y1="410.5" x2="316.3" y2="410.5" stroke="#231f20" stroke-width="1.3"/>
<text x="310.9" y="412.68" font-size="7.9" text-anchor="end" textLength="8.8" lengthAdjust="spacingAndGlyphs">80</text>
<line x1="313.3" y1="428.5" x2="316.3" y2="428.5" stroke="#231f20" stroke-width="1.3"/>
<text x="310.9" y="430.76" font-size="7.9" text-anchor="end" textLength="8.8" lengthAdjust="spacingAndGlyphs">60</text>
<line x1="313.3" y1="446.5" x2="316.3" y2="446.5" stroke="#231f20" stroke-width="1.3"/>
<text x="310.9" y="448.84" font-size="7.9" text-anchor="end" textLength="8.8" lengthAdjust="spacingAndGlyphs">40</text>
<line x1="313.3" y1="464.5" x2="316.3" y2="464.5" stroke="#231f20" stroke-width="1.3"/>
<text x="310.9" y="466.92" font-size="7.9" text-anchor="end" textLength="8.8" lengthAdjust="spacingAndGlyphs">20</text>
<line x1="313.3" y1="482.5" x2="316.3" y2="482.5" stroke="#231f20" stroke-width="1.3"/>
<text x="310.9" y="485" font-size="7.9" text-anchor="end" textLength="4.4" lengthAdjust="spacingAndGlyphs">0</text>
<line x1="314.8" y1="482.5" x2="383.6" y2="482.5" stroke="#231f20" stroke-width="1.3"/>
<rect x="321.7" y="479.9" width="9.2" height="2.5" fill="#2e4b7c" stroke="#203d72" stroke-width="0.6"/>
<line x1="326.5" y1="479.9" x2="326.5" y2="478" stroke="#231f20" stroke-width="0.9"/>
<line x1="324.1" y1="478.5" x2="328.5" y2="478.5" stroke="#231f20" stroke-width="0.9"/>
<rect x="337" y="479" width="9.2" height="3.4" fill="#a3002a"/>
<line x1="341.5" y1="479" x2="341.5" y2="477" stroke="#231f20" stroke-width="0.9"/>
<line x1="339.4" y1="477.5" x2="343.8" y2="477.5" stroke="#231f20" stroke-width="0.9"/>
<rect x="352.7" y="474.2" width="9.2" height="8.2" fill="#2e4b7c" stroke="#203d72" stroke-width="0.6"/>
<line x1="357.5" y1="474.2" x2="357.5" y2="468" stroke="#231f20" stroke-width="0.9"/>
<line x1="355.1" y1="468.5" x2="359.5" y2="468.5" stroke="#231f20" stroke-width="0.9"/>
<rect x="368.3" y="406.8" width="9.2" height="75.6" fill="#a3002a"/>
<line x1="372.5" y1="406.8" x2="372.5" y2="404.5" stroke="#231f20" stroke-width="0.9"/>
<line x1="370.7" y1="404.5" x2="375.1" y2="404.5" stroke="#231f20" stroke-width="0.9"/>
<polyline points="325.1,461.5 356.7,461.5" fill="none" stroke="#231f20" stroke-width="0.9"/>
<polyline points="339.5,461.7 339.5,395.5 371.5,395.5 371.5,399.2" fill="none" stroke="#231f20" stroke-width="0.9"/>
<text x="355.8" y="396.61" font-size="8.2" text-anchor="middle" style="stroke-width:0.2px">***</text>
<text transform="translate(279,436.4) rotate(-90)" x="0" y="0" font-size="9.6" text-anchor="middle" textLength="23.8" lengthAdjust="spacingAndGlyphs">CUTLL1</text>
<text transform="translate(290.4,435.7) rotate(-90)" x="0" y="0" font-size="9.6" text-anchor="middle" textLength="61.5" lengthAdjust="spacingAndGlyphs">apoptotic cells (%)</text>
<text x="333.9" y="493.3" font-size="8.5" text-anchor="middle" textLength="24.4" lengthAdjust="spacingAndGlyphs">DMSO</text>
<text x="364.7" y="493.3" font-size="8.5" text-anchor="middle" textLength="15.6" lengthAdjust="spacingAndGlyphs">DEX</text>
<line x1="444.5" y1="389.7" x2="444.5" y2="483" stroke="#231f20" stroke-width="1.3"/>
<line x1="441.7" y1="392.5" x2="444.7" y2="392.5" stroke="#231f20" stroke-width="1.3"/>
<text x="440" y="395.1" font-size="7.9" text-anchor="end" textLength="13" lengthAdjust="spacingAndGlyphs">100</text>
<line x1="441.7" y1="410.5" x2="444.7" y2="410.5" stroke="#231f20" stroke-width="1.3"/>
<text x="440" y="413.1" font-size="7.9" text-anchor="end" textLength="8.8" lengthAdjust="spacingAndGlyphs">80</text>
<line x1="441.7" y1="428.5" x2="444.7" y2="428.5" stroke="#231f20" stroke-width="1.3"/>
<text x="440" y="431.1" font-size="7.9" text-anchor="end" textLength="8.8" lengthAdjust="spacingAndGlyphs">60</text>
<line x1="441.7" y1="446.5" x2="444.7" y2="446.5" stroke="#231f20" stroke-width="1.3"/>
<text x="440" y="449.1" font-size="7.9" text-anchor="end" textLength="8.8" lengthAdjust="spacingAndGlyphs">40</text>
<line x1="441.7" y1="464.5" x2="444.7" y2="464.5" stroke="#231f20" stroke-width="1.3"/>
<text x="440" y="467.1" font-size="7.9" text-anchor="end" textLength="8.8" lengthAdjust="spacingAndGlyphs">20</text>
<line x1="441.7" y1="482.5" x2="444.7" y2="482.5" stroke="#231f20" stroke-width="1.3"/>
<text x="440" y="485.1" font-size="7.9" text-anchor="end" textLength="4.4" lengthAdjust="spacingAndGlyphs">0</text>
<line x1="443.2" y1="482.5" x2="511.8" y2="482.5" stroke="#231f20" stroke-width="1.3"/>
<rect x="450.6" y="479.3" width="9.2" height="3.2" fill="#2e4b7c" stroke="#203d72" stroke-width="0.6"/>
<line x1="455.5" y1="479.3" x2="455.5" y2="477.8" stroke="#231f20" stroke-width="0.9"/>
<line x1="453" y1="477.5" x2="457.4" y2="477.5" stroke="#231f20" stroke-width="0.9"/>
<rect x="466" y="468" width="9.2" height="14.5" fill="#a3002a"/>
<line x1="470.5" y1="468" x2="470.5" y2="463.3" stroke="#231f20" stroke-width="0.9"/>
<line x1="468.4" y1="463.5" x2="472.8" y2="463.5" stroke="#231f20" stroke-width="0.9"/>
<rect x="481.4" y="474.4" width="9.2" height="8.1" fill="#2e4b7c" stroke="#203d72" stroke-width="0.6"/>
<line x1="486.5" y1="474.4" x2="486.5" y2="471.4" stroke="#231f20" stroke-width="0.9"/>
<line x1="483.8" y1="471.5" x2="488.2" y2="471.5" stroke="#231f20" stroke-width="0.9"/>
<rect x="496.9" y="426.4" width="9.2" height="56.1" fill="#a3002a"/>
<line x1="501.5" y1="426.4" x2="501.5" y2="416.8" stroke="#231f20" stroke-width="0.9"/>
<line x1="499.3" y1="416.5" x2="503.7" y2="416.5" stroke="#231f20" stroke-width="0.9"/>
<polyline points="452.8,445.5 485.8,445.5" fill="none" stroke="#231f20" stroke-width="0.9"/>
<polyline points="468.5,445.2 468.5,407.5 501.5,407.5 501.5,412.1" fill="none" stroke="#231f20" stroke-width="0.9"/>
<polyline points="456.5,460.5 456.5,458.5 471.5,458.5 471.5,460.5" fill="none" stroke="#231f20" stroke-width="0.9"/>
<text x="485.7" y="409.01" font-size="8.2" text-anchor="middle" style="stroke-width:0.2px">***</text>
<text x="463.1" y="459.01" font-size="8.2" text-anchor="middle" style="stroke-width:0.2px">*</text>
<text transform="translate(409,436.4) rotate(-90)" x="0" y="0" font-size="9.6" text-anchor="middle" textLength="23.8" lengthAdjust="spacingAndGlyphs">MOLT4</text>
<text transform="translate(420.5,436.1) rotate(-90)" x="0" y="0" font-size="9.6" text-anchor="middle" textLength="60.8" lengthAdjust="spacingAndGlyphs">apoptotic cells (%)</text>
<text x="463.1" y="494.8" font-size="8.5" text-anchor="middle" textLength="24.4" lengthAdjust="spacingAndGlyphs">DMSO</text>
<text x="495.1" y="494.8" font-size="8.5" text-anchor="middle" textLength="15.6" lengthAdjust="spacingAndGlyphs">DEX</text>
<rect x="442.5" y="370" width="7.5" height="2.3" fill="#2e4b7c"/>
<text x="453.2" y="373.1" font-size="7.6" textLength="23.4" lengthAdjust="spacingAndGlyphs">DMSO</text>
<rect x="442.5" y="377.5" width="7.5" height="2.7" fill="#a3002a"/>
<text x="453.2" y="381.1" font-size="7.6" textLength="54.4" lengthAdjust="spacingAndGlyphs">Forskolin+IBMX</text>
<text transform="translate(9.35,526.7) scale(0.943,1)" x="0" y="0" font-size="11.92" font-weight="bold">F</text>
<line x1="52.5" y1="531.7" x2="52.5" y2="619.3" stroke="#231f20" stroke-width="1.3"/>
<line x1="49.1" y1="534.5" x2="52.1" y2="534.5" stroke="#231f20" stroke-width="1.3"/>
<text x="46.8" y="536.6" font-size="8" text-anchor="end" textLength="11.2" lengthAdjust="spacingAndGlyphs">1.5</text>
<line x1="49.1" y1="562.5" x2="52.1" y2="562.5" stroke="#231f20" stroke-width="1.3"/>
<text x="46.8" y="565.1" font-size="8" text-anchor="end" textLength="11.2" lengthAdjust="spacingAndGlyphs">1.0</text>
<line x1="49.1" y1="590.5" x2="52.1" y2="590.5" stroke="#231f20" stroke-width="1.3"/>
<text x="46.8" y="593.4" font-size="8" text-anchor="end" textLength="11.2" lengthAdjust="spacingAndGlyphs">0.5</text>
<line x1="49.1" y1="618.5" x2="52.1" y2="618.5" stroke="#231f20" stroke-width="1.3"/>
<text x="46.8" y="621.4" font-size="8" text-anchor="end" textLength="11.2" lengthAdjust="spacingAndGlyphs">0.0</text>
<line x1="51.1" y1="618.5" x2="120" y2="618.5" stroke="#231f20" stroke-width="1.3"/>
<rect x="57" y="564" width="8.7" height="54.8" fill="#2e4b7c" stroke="#203d72" stroke-width="0.6"/>
<rect x="72" y="566.7" width="8.7" height="52.1" fill="#a3002a"/>
<line x1="76.5" y1="566.7" x2="76.5" y2="564.5" stroke="#231f20" stroke-width="0.9"/>
<line x1="73.95" y1="564.5" x2="78.75" y2="564.5" stroke="#231f20" stroke-width="0.9"/>
<rect x="87.1" y="572.7" width="8.7" height="46.1" fill="#2e4b7c" stroke="#203d72" stroke-width="0.6"/>
<line x1="91.5" y1="572.7" x2="91.5" y2="569.3" stroke="#231f20" stroke-width="0.9"/>
<line x1="89.05" y1="569.5" x2="93.85" y2="569.5" stroke="#231f20" stroke-width="0.9"/>
<rect x="101.9" y="586" width="8.7" height="32.8" fill="#a3002a"/>
<line x1="106.5" y1="586" x2="106.5" y2="582.5" stroke="#231f20" stroke-width="0.9"/>
<line x1="103.85" y1="582.5" x2="108.65" y2="582.5" stroke="#231f20" stroke-width="0.9"/>
<polyline points="66.1,547.5 82.7,547.5" fill="none" stroke="#231f20" stroke-width="0.9"/>
<polyline points="74.5,547.7 74.5,544.5 106.5,544.5 106.5,550.6" fill="none" stroke="#231f20" stroke-width="0.9"/>
<polyline points="61.5,557.5 61.5,556.5 92.5,556.5 92.5,557.5" fill="none" stroke="#231f20" stroke-width="0.9"/>
<polyline points="93.5,557.5 93.5,556.5 106.5,556.5 106.5,578.2" fill="none" stroke="#231f20" stroke-width="0.9"/>
<text x="90.5" y="544.5" font-size="7.8" text-anchor="middle" style="stroke-width:0.2px">***</text>
<text x="76.6" y="557.8" font-size="7.8" text-anchor="middle" style="stroke-width:0.2px">*</text>
<text x="100.2" y="557.9" font-size="7.8" text-anchor="middle" style="stroke-width:0.2px">**</text>
<text transform="translate(17.3,574.9) rotate(-90)" x="0" y="0" font-size="9.6" text-anchor="middle" textLength="22.6" lengthAdjust="spacingAndGlyphs">REL-14</text>
<text transform="translate(28.6,575.2) rotate(-90)" x="0" y="0" font-size="9.6" text-anchor="middle" textLength="53.9" lengthAdjust="spacingAndGlyphs">relative viability</text>
<text x="69.4" y="629.3" font-size="8.5" text-anchor="middle" textLength="24.4" lengthAdjust="spacingAndGlyphs">DMSO</text>
<text x="99.1" y="629.3" font-size="8.5" text-anchor="middle" textLength="15.6" lengthAdjust="spacingAndGlyphs">DEX</text>
<line x1="183.5" y1="533.7" x2="183.5" y2="619.3" stroke="#231f20" stroke-width="1.3"/>
<line x1="180.2" y1="535.5" x2="183.2" y2="535.5" stroke="#231f20" stroke-width="1.3"/>
<text x="178" y="538.1" font-size="8" text-anchor="end" textLength="11.2" lengthAdjust="spacingAndGlyphs">1.5</text>
<line x1="180.2" y1="563.5" x2="183.2" y2="563.5" stroke="#231f20" stroke-width="1.3"/>
<text x="178" y="565.9" font-size="8" text-anchor="end" textLength="11.2" lengthAdjust="spacingAndGlyphs">1.0</text>
<line x1="180.2" y1="591.5" x2="183.2" y2="591.5" stroke="#231f20" stroke-width="1.3"/>
<text x="178" y="593.8" font-size="8" text-anchor="end" textLength="11.2" lengthAdjust="spacingAndGlyphs">0.5</text>
<line x1="180.2" y1="618.5" x2="183.2" y2="618.5" stroke="#231f20" stroke-width="1.3"/>
<text x="178" y="621.4" font-size="8" text-anchor="end" textLength="11.2" lengthAdjust="spacingAndGlyphs">0.0</text>
<line x1="182.2" y1="618.5" x2="245.9" y2="618.5" stroke="#231f20" stroke-width="1.3"/>
<rect x="190.3" y="564.1" width="8.7" height="54.7" fill="#2e4b7c" stroke="#203d72" stroke-width="0.6"/>
<rect x="205.1" y="575.4" width="8.7" height="43.4" fill="#a3002a"/>
<line x1="209.5" y1="575.4" x2="209.5" y2="567.4" stroke="#231f20" stroke-width="0.9"/>
<line x1="207.05" y1="567.5" x2="211.85" y2="567.5" stroke="#231f20" stroke-width="0.9"/>
<rect x="220" y="591" width="8.7" height="27.8" fill="#2e4b7c" stroke="#203d72" stroke-width="0.6"/>
<line x1="224.5" y1="591" x2="224.5" y2="587.4" stroke="#231f20" stroke-width="0.9"/>
<line x1="221.95" y1="587.5" x2="226.75" y2="587.5" stroke="#231f20" stroke-width="0.9"/>
<rect x="234.9" y="612.1" width="8.7" height="6.7" fill="#a3002a"/>
<line x1="239.5" y1="612.1" x2="239.5" y2="611.4" stroke="#231f20" stroke-width="0.9"/>
<line x1="236.85" y1="611.5" x2="241.65" y2="611.5" stroke="#231f20" stroke-width="0.9"/>
<polyline points="194.5,550.3 194.5,548.5 238.5,548.5 238.5,550.3" fill="none" stroke="#231f20" stroke-width="0.9"/>
<polyline points="210.5,554.7 210.5,553.5 238.5,553.5 238.5,568.3" fill="none" stroke="#231f20" stroke-width="0.9"/>
<polyline points="194.5,561 194.5,559.5 225.5,559.5 225.5,575.7" fill="none" stroke="#231f20" stroke-width="0.9"/>
<polyline points="224.5,583.7 224.5,582.5 238.5,582.5 238.5,607.7" fill="none" stroke="#231f20" stroke-width="0.9"/>
<text x="216.6" y="549.3" font-size="7.8" text-anchor="middle" style="stroke-width:0.2px">***</text>
<text x="224.6" y="554.8" font-size="7.8" text-anchor="middle" style="stroke-width:0.2px">**</text>
<text x="210.3" y="561.5" font-size="7.8" text-anchor="middle" style="stroke-width:0.2px">**</text>
<text x="231.7" y="584" font-size="7.8" text-anchor="middle" style="stroke-width:0.2px">*</text>
<text transform="translate(148.4,575.7) rotate(-90)" x="0" y="0" font-size="9.6" text-anchor="middle" textLength="15.4" lengthAdjust="spacingAndGlyphs">DX-7</text>
<text transform="translate(159.2,575.2) rotate(-90)" x="0" y="0" font-size="9.6" text-anchor="middle" textLength="53.9" lengthAdjust="spacingAndGlyphs">relative viability</text>
<text x="201.8" y="629.3" font-size="8.5" text-anchor="middle" textLength="24.4" lengthAdjust="spacingAndGlyphs">DMSO</text>
<text x="231.6" y="629.3" font-size="8.5" text-anchor="middle" textLength="15.6" lengthAdjust="spacingAndGlyphs">DEX</text>
<line x1="315.5" y1="532.5" x2="315.5" y2="619.3" stroke="#231f20" stroke-width="1.3"/>
<line x1="312.2" y1="535.5" x2="315.2" y2="535.5" stroke="#231f20" stroke-width="1.3"/>
<text x="311.2" y="537.6" font-size="8" text-anchor="end" textLength="11.2" lengthAdjust="spacingAndGlyphs">1.5</text>
<line x1="312.2" y1="563.5" x2="315.2" y2="563.5" stroke="#231f20" stroke-width="1.3"/>
<text x="311.2" y="565.6" font-size="8" text-anchor="end" textLength="11.2" lengthAdjust="spacingAndGlyphs">1.0</text>
<line x1="312.2" y1="591.5" x2="315.2" y2="591.5" stroke="#231f20" stroke-width="1.3"/>
<text x="311.2" y="593.8" font-size="8" text-anchor="end" textLength="11.2" lengthAdjust="spacingAndGlyphs">0.5</text>
<line x1="312.2" y1="618.5" x2="315.2" y2="618.5" stroke="#231f20" stroke-width="1.3"/>
<text x="311.2" y="621.4" font-size="8" text-anchor="end" textLength="11.2" lengthAdjust="spacingAndGlyphs">0.0</text>
<line x1="314.2" y1="618.5" x2="379.9" y2="618.5" stroke="#231f20" stroke-width="1.3"/>
<rect x="321.6" y="564.1" width="8.7" height="54.7" fill="#2e4b7c" stroke="#203d72" stroke-width="0.6"/>
<rect x="336.3" y="575.3" width="8.7" height="43.5" fill="#a3002a"/>
<line x1="340.5" y1="575.3" x2="340.5" y2="567.4" stroke="#231f20" stroke-width="0.9"/>
<line x1="338.25" y1="567.5" x2="343.05" y2="567.5" stroke="#231f20" stroke-width="0.9"/>
<rect x="351.3" y="591" width="8.7" height="27.8" fill="#2e4b7c" stroke="#203d72" stroke-width="0.6"/>
<line x1="355.5" y1="591" x2="355.5" y2="587.3" stroke="#231f20" stroke-width="0.9"/>
<line x1="353.25" y1="587.5" x2="358.05" y2="587.5" stroke="#231f20" stroke-width="0.9"/>
<rect x="366.3" y="612.1" width="8.7" height="6.7" fill="#a3002a"/>
<line x1="370.5" y1="612.1" x2="370.5" y2="611.3" stroke="#231f20" stroke-width="0.9"/>
<line x1="368.25" y1="611.5" x2="373.05" y2="611.5" stroke="#231f20" stroke-width="0.9"/>
<polyline points="328,550.5 356.9,550.5" fill="none" stroke="#231f20" stroke-width="0.9"/>
<polyline points="341.5,550.3 341.5,546.5 370.5,546.5 370.5,576.3" fill="none" stroke="#231f20" stroke-width="0.9"/>
<polyline points="327.5,557.9 327.5,556.5 357.5,556.5 357.5,574.7" fill="none" stroke="#231f20" stroke-width="0.9"/>
<polyline points="356.5,582.7 356.5,581.5 370.5,581.5 370.5,603.7" fill="none" stroke="#231f20" stroke-width="0.9"/>
<text x="355.7" y="548" font-size="7.8" text-anchor="middle" style="stroke-width:0.2px">**</text>
<text x="341.8" y="558.8" font-size="7.8" text-anchor="middle" style="stroke-width:0.2px">*</text>
<text x="363" y="584" font-size="7.8" text-anchor="middle" style="stroke-width:0.2px">*</text>
<text transform="translate(281,574) rotate(-90)" x="0" y="0" font-size="9.6" text-anchor="middle" textLength="20.9" lengthAdjust="spacingAndGlyphs">DX-18</text>
<text transform="translate(292.7,574.3) rotate(-90)" x="0" y="0" font-size="9.6" text-anchor="middle" textLength="54.4" lengthAdjust="spacingAndGlyphs">relative viability</text>
<text x="332.9" y="629.3" font-size="8.5" text-anchor="middle" textLength="24.4" lengthAdjust="spacingAndGlyphs">DMSO</text>
<text x="363.5" y="629.3" font-size="8.5" text-anchor="middle" textLength="15.6" lengthAdjust="spacingAndGlyphs">DEX</text>
<line x1="444.5" y1="532.5" x2="444.5" y2="619.3" stroke="#231f20" stroke-width="1.3"/>
<line x1="441.4" y1="535.5" x2="444.4" y2="535.5" stroke="#231f20" stroke-width="1.3"/>
<text x="440" y="538.1" font-size="8" text-anchor="end" textLength="11.2" lengthAdjust="spacingAndGlyphs">1.5</text>
<line x1="441.4" y1="563.5" x2="444.4" y2="563.5" stroke="#231f20" stroke-width="1.3"/>
<text x="440" y="566.3" font-size="8" text-anchor="end" textLength="11.2" lengthAdjust="spacingAndGlyphs">1.0</text>
<line x1="441.4" y1="591.5" x2="444.4" y2="591.5" stroke="#231f20" stroke-width="1.3"/>
<text x="440" y="593.8" font-size="8" text-anchor="end" textLength="11.2" lengthAdjust="spacingAndGlyphs">0.5</text>
<line x1="441.4" y1="618.5" x2="444.4" y2="618.5" stroke="#231f20" stroke-width="1.3"/>
<text x="440" y="621.4" font-size="8" text-anchor="end" textLength="11.2" lengthAdjust="spacingAndGlyphs">0.0</text>
<line x1="443.4" y1="618.5" x2="510" y2="618.5" stroke="#231f20" stroke-width="1.3"/>
<rect x="450.2" y="564.1" width="8.7" height="54.7" fill="#2e4b7c" stroke="#203d72" stroke-width="0.6"/>
<rect x="465" y="576.5" width="8.7" height="42.3" fill="#a3002a"/>
<line x1="469.5" y1="576.5" x2="469.5" y2="573" stroke="#231f20" stroke-width="0.9"/>
<line x1="466.95" y1="573.5" x2="471.75" y2="573.5" stroke="#231f20" stroke-width="0.9"/>
<rect x="479.9" y="579.8" width="8.7" height="39" fill="#2e4b7c" stroke="#203d72" stroke-width="0.6"/>
<line x1="484.5" y1="579.8" x2="484.5" y2="575.8" stroke="#231f20" stroke-width="0.9"/>
<line x1="481.85" y1="575.5" x2="486.65" y2="575.5" stroke="#231f20" stroke-width="0.9"/>
<rect x="494.8" y="595.9" width="8.7" height="22.9" fill="#a3002a"/>
<line x1="499.5" y1="595.9" x2="499.5" y2="591.1" stroke="#231f20" stroke-width="0.9"/>
<line x1="496.75" y1="591.5" x2="501.55" y2="591.5" stroke="#231f20" stroke-width="0.9"/>
<polyline points="452.5,543 452.5,542.5 498.5,542.5 498.5,543" fill="none" stroke="#231f20" stroke-width="0.9"/>
<polyline points="469.5,551.4 469.5,550.5 499.5,550.5 499.5,566.4" fill="none" stroke="#231f20" stroke-width="0.9"/>
<polyline points="454.5,559.9 454.5,558.5 484.5,558.5 484.5,567.4" fill="none" stroke="#231f20" stroke-width="0.9"/>
<polyline points="483.5,571.2 483.5,569.5 499.5,569.5 499.5,588.5" fill="none" stroke="#231f20" stroke-width="0.9"/>
<text x="475.5" y="543.8" font-size="7.8" text-anchor="middle" style="stroke-width:0.2px">***</text>
<text x="484.2" y="551.7" font-size="7.8" text-anchor="middle" style="stroke-width:0.2px">**</text>
<text x="468.3" y="559.8" font-size="7.8" text-anchor="middle" style="stroke-width:0.2px">*</text>
<text x="491.8" y="571" font-size="7.8" text-anchor="middle" style="stroke-width:0.2px">*</text>
<text transform="translate(410,575.2) rotate(-90)" x="0" y="0" font-size="9.6" text-anchor="middle" textLength="23.1" lengthAdjust="spacingAndGlyphs">REL-10</text>
<text transform="translate(420.9,575.2) rotate(-90)" x="0" y="0" font-size="9.6" text-anchor="middle" textLength="53.9" lengthAdjust="spacingAndGlyphs">relative viability</text>
<text x="462.2" y="629.3" font-size="8.5" text-anchor="middle" textLength="24.4" lengthAdjust="spacingAndGlyphs">DMSO</text>
<text x="491.9" y="629.3" font-size="8.5" text-anchor="middle" textLength="15.6" lengthAdjust="spacingAndGlyphs">DEX</text>
<rect x="446.3" y="514.9" width="7.5" height="2.3" fill="#2e4b7c"/>
<text x="457.3" y="518.6" font-size="7.6" textLength="22.8" lengthAdjust="spacingAndGlyphs">DMSO</text>
<rect x="446.3" y="522.6" width="7.5" height="2.8" fill="#a3002a"/>
<text x="457.3" y="526.4" font-size="7.6" textLength="30" lengthAdjust="spacingAndGlyphs">Forskolin</text>
</svg>
</body></html>
